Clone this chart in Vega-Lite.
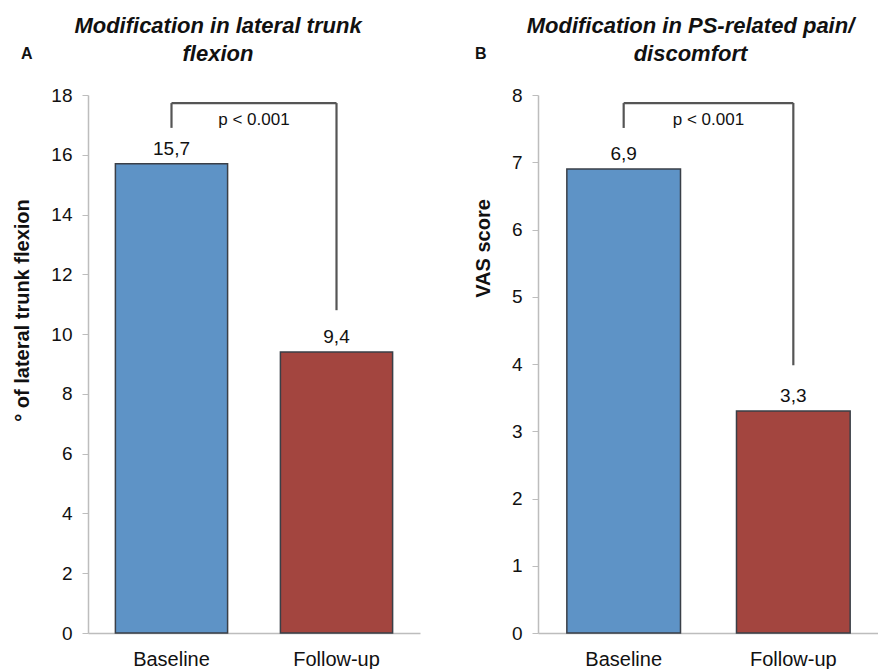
{
  "$schema": "https://vega.github.io/schema/vega-lite/v6.json",
  "padding": {"left": 12, "top": 15, "right": 0, "bottom": 0},
  "spacing": 53,
  "config": {
    "view": {"stroke": null},
    "font": "Liberation Sans",
    "axis": {"grid": false, "domainColor": "#bdbdbd", "tickColor": "#bdbdbd", "domainWidth": 1.5, "labelColor": "#111", "titleColor": "#111", "labelFont": "Liberation Sans", "titleFont": "Liberation Sans"},
    "title": {"font": "Liberation Sans", "color": "#111"}
  },
  "datasets": {
    "trunk": [
      {"group": "Baseline", "value": 15.7, "label": "15,7"},
      {"group": "Follow-up", "value": 9.4, "label": "9,4"}
    ],
    "trunkBracket": [
      {"from": "Baseline", "to": "Baseline", "y": 16.9, "y2": 17.73},
      {"from": "Baseline", "to": "Follow-up", "y": 17.73, "y2": 17.73},
      {"from": "Follow-up", "to": "Follow-up", "y": 17.73, "y2": 10.8}
    ],
    "trunkP": [{"group": "Baseline", "y": 17.16, "text": "p < 0.001"}],
    "vas": [
      {"group": "Baseline", "value": 6.9, "label": "6,9"},
      {"group": "Follow-up", "value": 3.3, "label": "3,3"}
    ],
    "vasBracket": [
      {"from": "Baseline", "to": "Baseline", "y": 7.51, "y2": 7.88},
      {"from": "Baseline", "to": "Follow-up", "y": 7.88, "y2": 7.88},
      {"from": "Follow-up", "to": "Follow-up", "y": 7.88, "y2": 3.98}
    ],
    "vasP": [{"group": "Baseline", "y": 7.63, "text": "p < 0.001"}]
  },
  "hconcat": [
    {
      "title": {"text": "A", "anchor": "start", "frame": "bounds", "fontSize": 16, "fontWeight": "bold", "offset": -47, "dx": 9},
      "vconcat": [
        {
          "width": 332,
          "height": 538,
          "title": {"text": ["Modification in lateral trunk", "flexion"], "fontSize": 22, "fontStyle": "italic", "fontWeight": "bold", "lineHeight": 28, "anchor": "middle", "frame": "group", "dx": -36, "offset": 20},
          "layer": [
            {
              "data": {"name": "trunk"},
              "mark": {"type": "bar", "stroke": "#3a3f47", "strokeWidth": 1.5},
              "encoding": {
                "x": {"field": "group", "type": "nominal", "sort": null, "scale": {"paddingInner": 0.32, "paddingOuter": 0.166},
                  "axis": {"title": null, "labelAngle": 0, "ticks": false, "labelFontSize": 20, "labelPadding": 16}},
                "y": {"field": "value", "type": "quantitative", "scale": {"domain": [0, 18], "nice": false},
                  "axis": {"title": "° of lateral trunk flexion", "values": [0, 2, 4, 6, 8, 10, 12, 14, 16, 18], "format": "d", "labelFontSize": 19, "labelPadding": 10, "tickSize": 6, "titleFontSize": 20, "titleFontWeight": "bold", "titleX": -66, "titleY": 215, "titleBaseline": "middle", "titleAngle": -90}},
                "color": {"field": "group", "type": "nominal", "scale": {"domain": ["Baseline", "Follow-up"], "range": ["#5e93c6", "#a3453f"]}, "legend": null}
              }
            },
            {
              "data": {"name": "trunk"},
              "mark": {"type": "text", "fontSize": 19, "baseline": "alphabetic", "dy": -9, "color": "#111"},
              "encoding": {
                "x": {"field": "group", "type": "nominal", "sort": null},
                "y": {"field": "value", "type": "quantitative"},
                "text": {"field": "label"}
              }
            },
            {
              "data": {"name": "trunkBracket"},
              "mark": {"type": "rule", "color": "#555", "strokeWidth": 2.2},
              "encoding": {
                "x": {"field": "from", "type": "nominal", "sort": null},
                "x2": {"field": "to"},
                "y": {"field": "y", "type": "quantitative"},
                "y2": {"field": "y2"}
              }
            },
            {
              "data": {"name": "trunkP"},
              "mark": {"type": "text", "fontSize": 17, "baseline": "middle", "align": "center", "color": "#111"},
              "encoding": {
                "x": {"field": "group", "type": "nominal", "sort": null, "bandPosition": 1.235},
                "y": {"field": "y", "type": "quantitative"},
                "text": {"field": "text"}
              }
            }
          ]
        }
      ]
    },
    {
      "title": {"text": "B", "anchor": "start", "frame": "bounds", "fontSize": 16, "fontWeight": "bold", "offset": -47, "dx": 2},
      "vconcat": [
        {
          "width": 341,
          "height": 538,
          "title": {"text": ["Modification in PS-related pain/", "discomfort"], "fontSize": 22, "fontStyle": "italic", "fontWeight": "bold", "lineHeight": 28, "anchor": "middle", "frame": "group", "dx": -18, "offset": 20},
          "layer": [
            {
              "data": {"name": "vas"},
              "mark": {"type": "bar", "stroke": "#3a3f47", "strokeWidth": 1.5},
              "encoding": {
                "x": {"field": "group", "type": "nominal", "sort": null, "scale": {"paddingInner": 0.33, "paddingOuter": 0.17},
                  "axis": {"title": null, "labelAngle": 0, "ticks": false, "labelFontSize": 20, "labelPadding": 16}},
                "y": {"field": "value", "type": "quantitative", "scale": {"domain": [0, 8], "nice": false},
                  "axis": {"title": "VAS score", "values": [0, 1, 2, 3, 4, 5, 6, 7, 8], "format": "d", "labelFontSize": 19, "labelPadding": 10, "tickSize": 6, "titleFontSize": 20, "titleFontWeight": "bold", "titleX": -55, "titleY": 153, "titleBaseline": "middle", "titleAngle": -90}},
                "color": {"field": "group", "type": "nominal", "scale": {"domain": ["Baseline", "Follow-up"], "range": ["#5e93c6", "#a3453f"]}, "legend": null}
              }
            },
            {
              "data": {"name": "vas"},
              "mark": {"type": "text", "fontSize": 19, "baseline": "alphabetic", "dy": -9, "color": "#111"},
              "encoding": {
                "x": {"field": "group", "type": "nominal", "sort": null},
                "y": {"field": "value", "type": "quantitative"},
                "text": {"field": "label"}
              }
            },
            {
              "data": {"name": "vasBracket"},
              "mark": {"type": "rule", "color": "#555", "strokeWidth": 2.2},
              "encoding": {
                "x": {"field": "from", "type": "nominal", "sort": null},
                "x2": {"field": "to"},
                "y": {"field": "y", "type": "quantitative"},
                "y2": {"field": "y2"}
              }
            },
            {
              "data": {"name": "vasP"},
              "mark": {"type": "text", "fontSize": 17, "baseline": "middle", "align": "center", "color": "#111"},
              "encoding": {
                "x": {"field": "group", "type": "nominal", "sort": null, "bandPosition": 1.246},
                "y": {"field": "y", "type": "quantitative"},
                "text": {"field": "text"}
              }
            }
          ]
        }
      ]
    }
  ]
}
